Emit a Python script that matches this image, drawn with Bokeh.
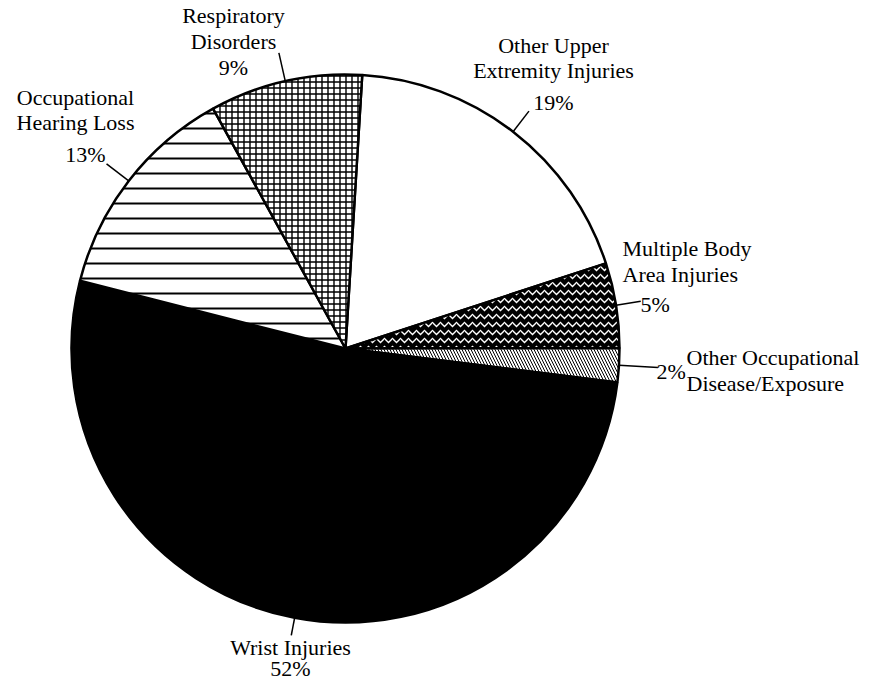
import math
from bokeh.plotting import figure
from bokeh.models import Range1d
from bokeh.core.properties import value
from bokeh.embed import file_html
from bokeh.resources import INLINE

# ---- data ----
categories = ["Other Upper Extremity Injuries", "Multiple Body Area Injuries",
              "Other Occupational Disease/Exposure", "Wrist Injuries",
              "Occupational Hearing Loss", "Respiratory Disorders"]
percents = [19, 5, 2, 52, 13, 9]
pct_labels = ["19%", "5%", "2%", "52%", "13%", "9%"]

# ---- styles ----
fills = ["white", "black", "white", "black", "white", "white"]
hatch_patterns = [" ", "horizontal_wave", "left_diagonal_line", " ", "horizontal_line", "cross"]
hatch_colors = ["black", "white", "black", "black", "black", "black"]
hatch_scales = [12, 8, 6, 12, 15, 6]
hatch_weights = [1, 1.3, 1, 1, 2, 1.4]

W, H = 866, 683
# data coords: x = screen x, y = H - screen y
p = figure(width=W, height=H, output_backend="svg", toolbar_location=None,
           x_range=Range1d(0, W), y_range=Range1d(0, H),
           x_axis_location=None, y_axis_location=None, min_border=0,
           outline_line_color=None)
p.grid.visible = False

cx, cy, R = 345, H - 348, 274
start_deg = 3.5  # clockwise from top
total = sum(percents)
theta = start_deg
mids = []
for i, v in enumerate(percents):
    span = v / total * 360.0
    t0, t1 = theta, theta + span
    mids.append((t0 + t1) / 2)
    p.wedge(x=cx, y=cy, radius=R,
            start_angle=math.radians(90 - t0), end_angle=math.radians(90 - t1),
            direction="clock", fill_color=fills[i], line_color="black", line_width=2.5,
            hatch_pattern=hatch_patterns[i], hatch_color=hatch_colors[i],
            hatch_scale=hatch_scales[i], hatch_weight=hatch_weights[i])
    theta = t1

# leader lines (radial)
lead_out = [300, 299, 313, 292, 302, 303]
for i, m in enumerate(mids):
    a = math.radians(m)
    p.segment(x0=cx + R * math.sin(a), y0=cy + R * math.cos(a),
              x1=cx + lead_out[i] * math.sin(a), y1=cy + lead_out[i] * math.cos(a),
              line_color="black", line_width=1.5)

font = value("'Liberation Serif', 'DejaVu Serif', serif")
fs = "22px"

def txt(x, sy, s, align):
    p.text(x=[x], y=[H - sy], text=[s], text_font=font, text_font_size=fs,
           text_align=align, text_baseline="middle", text_color="black")

# Other Upper Extremity
txt(553, 45, "Other Upper", "center")
txt(553, 70, "Extremity Injuries", "center")
txt(553, 102, pct_labels[0], "center")
# Multiple Body
txt(622, 248, "Multiple Body", "left")
txt(622, 274, "Area Injuries", "left")
txt(640, 304, pct_labels[1], "left")
# Other Occupational
txt(656, 371, pct_labels[2], "left")
txt(686, 357, "Other Occupational", "left")
txt(686, 383, "Disease/Exposure", "left")
# Wrist
txt(290, 647, "Wrist Injuries", "center")
txt(290, 668, pct_labels[3], "center")
# Hearing
txt(75, 97, "Occupational", "center")
txt(75, 122, "Hearing Loss", "center")
txt(85, 154, pct_labels[4], "center")
# Respiratory
txt(233, 15, "Respiratory", "center")
txt(233, 41, "Disorders", "center")
txt(233, 67, pct_labels[5], "center")

open("out.html", "w").write(file_html(p, INLINE))
